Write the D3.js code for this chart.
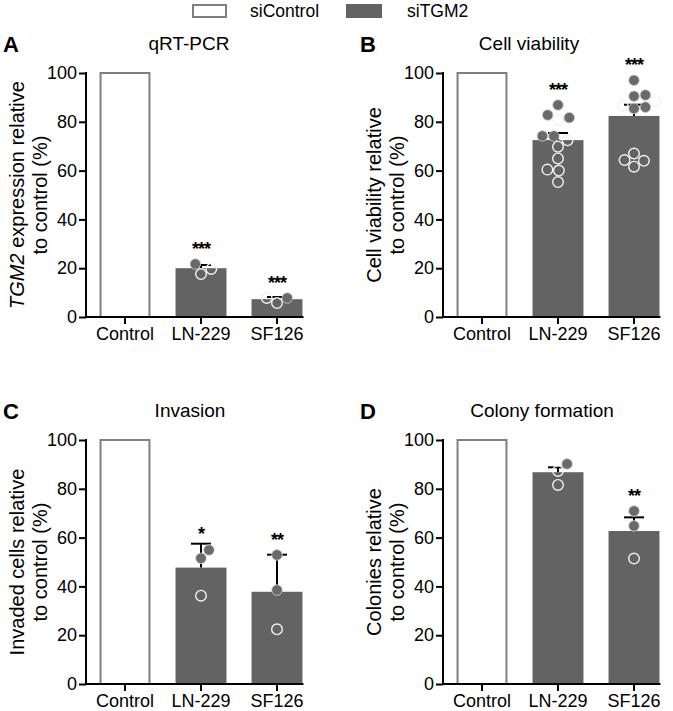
<!DOCTYPE html>
<html><head><meta charset="utf-8">
<script src="https://cdn.jsdelivr.net/npm/d3@7"></script>
<style>body{margin:0;background:#fff;} svg{display:block;font-family:"Liberation Sans",Arial,sans-serif;}</style>
</head><body>
<script>
// ---------- DATA ----------
const categories = ["Control", "LN-229", "SF126"];
const yTicks = [0, 20, 40, 60, 80, 100];
const legendLabels = ["siControl", "siTGM2"];
const panelLetters = ["A", "B", "C", "D"];
const panelTitles = ["qRT-PCR", "Cell viability", "Invasion", "Colony formation"];
const yLabelLine1 = ["TGM2 expression relative", "Cell viability relative", "Invaded cells relative", "Colonies relative"];
const yLabelLine2 = ["to control (%)", "to control (%)", "to control (%)", "to control (%)"];

// panel A: qRT-PCR
const meanA = [100, 20.0, 7.3];
const errA = [null, 21.3, 8.2];
const filledA = [[], [21.7], [7.8]];
const openA = [[], [17.6, 19.7], [5.7, 7.8]];
const starsA = ["", "***", "***"];

// panel B: cell viability
const meanB = [100, 72.5, 82.4];
const errB = [null, 75.4, 87.0];
const filledB = [[], [86.9, 81.7, 82.8, 74.2, 74.2], [97.0, 91.0, 90.5, 86.0, 85.5]];
const openB = [[], [80.7, 72.4, 69.8, 65.0, 60.4, 60.0, 55.3], [88.5, 86.5, 67.0, 64.3, 64.0, 61.6]];
const starsB = ["", "***", "***"];

// panel C: invasion
const meanC = [100, 47.7, 37.8];
const errC = [null, 57.5, 53.0];
const filledC = [[], [54.9, 51.5], [52.9, 38.5]];
const openC = [[], [36.2], [22.4]];
const starsC = ["", "*", "**"];

// panel D: colony formation
const meanD = [100, 86.8, 62.7];
const errD = [null, 88.8, 68.3];
const filledD = [[], [90.2], [70.9, 64.8]];
const openD = [[], [87.3, 81.6], [51.4]];
const starsD = ["", "", "**"];

// ---------- LAYOUT ----------
const W = 673, H = 711;
const BAR = "#636363", CTRL_STROKE = "#808080";
const panels = [
  {mean: meanA, err: errA, filled: filledA, open: openA, stars: starsA},
  {mean: meanB, err: errB, filled: filledB, open: openB, stars: starsB},
  {mean: meanC, err: errC, filled: filledC, open: openC, stars: starsC},
  {mean: meanD, err: errD, filled: filledD, open: openD, stars: starsD}
];
const offX = [0, 357, 0, 357], offY = [0, 0, 367, 367];
const titleX = [189, 172, 190, 185];

const svg = d3.select("body").append("svg").attr("width", W).attr("height", H);

// legend
const lg = svg.append("g");
lg.append("rect").attr("x", 193).attr("y", 5).attr("width", 33).attr("height", 12)
  .attr("fill", "#fff").attr("stroke", CTRL_STROKE).attr("stroke-width", 2);
lg.append("text").attr("x", 250).attr("y", 17).attr("font-size", 17.5).text(legendLabels[0]);
lg.append("rect").attr("x", 346).attr("y", 4).attr("width", 36).attr("height", 14).attr("fill", BAR);
lg.append("text").attr("x", 407).attr("y", 17).attr("font-size", 17.5).text(legendLabels[1]);

const R = 5.3, MIN_D = 11.5;
function swarm(vals, y) {
  const pts = vals.slice().sort((a, b) => a.v - b.v);
  const placed = [];
  pts.forEach(p => {
    const py = y(p.v);
    let cands = [0];
    placed.forEach(q => {
      const dy = py - q.y;
      if (Math.abs(dy) < MIN_D) {
        const dx = Math.sqrt(MIN_D * MIN_D - dy * dy);
        cands.push(q.dx + dx, q.dx - dx);
      }
    });
    cands.sort((a, b) => Math.abs(a) - Math.abs(b) || b - a);
    let chosen = cands.find(c => placed.every(q => Math.hypot(c - q.dx, py - q.y) >= MIN_D - 1e-6));
    if (chosen === undefined) chosen = 0;
    placed.push({dx: chosen, y: py, v: p.v, f: p.f});
  });
  return placed;
}

panels.forEach((P, i) => {
  const g = svg.append("g").attr("transform", `translate(${offX[i]},${offY[i]})`);
  const y = d3.scaleLinear().domain([0, 100]).range([317, 73]);
  const x = d3.scaleBand().domain(categories).range([87, 315]).padding(0);
  const bw = x.bandwidth() * 0.67;
  const cx = c => x(c) + x.bandwidth() / 2;

  // letter & title
  g.append("text").attr("x", 3).attr("y", 52).attr("font-size", 22).attr("font-weight", "bold").text(panelLetters[i]);
  g.append("text").attr("x", titleX[i]).attr("y", 50).attr("font-size", 19).attr("text-anchor", "middle").text(panelTitles[i]);

  // y label
  const yl = g.append("text").attr("transform", `translate(24,195) rotate(-90)`)
    .attr("text-anchor", "middle").attr("font-size", 20);
  if (i === 0) {
    yl.append("tspan").attr("font-style", "italic").text("TGM2");
    yl.append("tspan").text(yLabelLine1[i].replace("TGM2", ""));
  } else yl.text(yLabelLine1[i]);
  g.append("text").attr("transform", `translate(47,195) rotate(-90)`)
    .attr("text-anchor", "middle").attr("font-size", 20).text(yLabelLine2[i]);

  // bars
  categories.forEach((c, k) => {
    const isCtrl = k === 0;
    g.append("rect")
      .attr("x", cx(c) - bw / 2 + (isCtrl ? 1 : 0))
      .attr("y", y(P.mean[k]))
      .attr("width", bw - (isCtrl ? 2 : 0))
      .attr("height", y(0) - y(P.mean[k]))
      .attr("fill", isCtrl ? "#fff" : BAR)
      .attr("stroke", isCtrl ? CTRL_STROKE : "none")
      .attr("stroke-width", 2);
  });

  // error bars
  categories.forEach((c, k) => {
    if (P.err[k] == null) return;
    g.append("line").attr("x1", cx(c)).attr("x2", cx(c)).attr("y1", y(P.mean[k])).attr("y2", y(P.err[k]))
      .attr("stroke", "#000").attr("stroke-width", 2);
    g.append("line").attr("x1", cx(c) - 10).attr("x2", cx(c) + 10).attr("y1", y(P.err[k])).attr("y2", y(P.err[k]))
      .attr("stroke", "#000").attr("stroke-width", 2);
  });

  // dots
  categories.forEach((c, k) => {
    const vals = P.filled[k].map(v => ({v, f: true})).concat(P.open[k].map(v => ({v, f: false})));
    const pts = swarm(vals, y);
    pts.forEach(p => {
      g.append("circle").attr("cx", cx(c) + p.dx).attr("cy", p.y).attr("r", R)
        .attr("fill", p.f ? "#6a6a6a" : "none")
        .attr("stroke", p.f ? "#d0d0d0" : "#f2f2f2").attr("stroke-width", p.f ? 0.8 : 1.4);
    });
    // stars
    if (P.stars[k]) {
      const top = Math.min(y(P.err[k] ?? P.mean[k]), ...pts.map(p => p.y - R));
      g.append("text").attr("x", cx(c)).attr("y", top - 4).attr("text-anchor", "middle")
        .attr("font-size", 18).attr("font-weight", "bold").attr("letter-spacing", -1).text(P.stars[k]);
    }
  });

  // axes
  const ya = d3.axisLeft(y).tickValues(yTicks).tickSize(7).tickSizeOuter(0).tickPadding(2);
  const yg = g.append("g").attr("transform", "translate(86,0)").call(ya);
  yg.select(".domain").attr("stroke-width", 2).attr("d", `M0,${y(0) + 1}V${y(100) - 1}`);
  yg.selectAll(".tick line").attr("stroke-width", 2);
  yg.selectAll(".tick text").attr("font-size", 18).attr("fill", "#000").attr("font-family", "Liberation Sans, Arial, sans-serif");

  const xa = d3.axisBottom(x).tickSize(7).tickSizeOuter(0).tickPadding(3);
  const xg = g.append("g").attr("transform", `translate(0,${y(0)})`).call(xa);
  xg.select(".domain").attr("stroke-width", 2).attr("d", `M85,0H${cx(categories[2]) + bw / 2 + 1}`);
  xg.selectAll(".tick line").attr("stroke-width", 2);
  xg.selectAll(".tick text").attr("font-size", 18).attr("fill", "#000").attr("font-family", "Liberation Sans, Arial, sans-serif");
});
</script>
</body></html>
